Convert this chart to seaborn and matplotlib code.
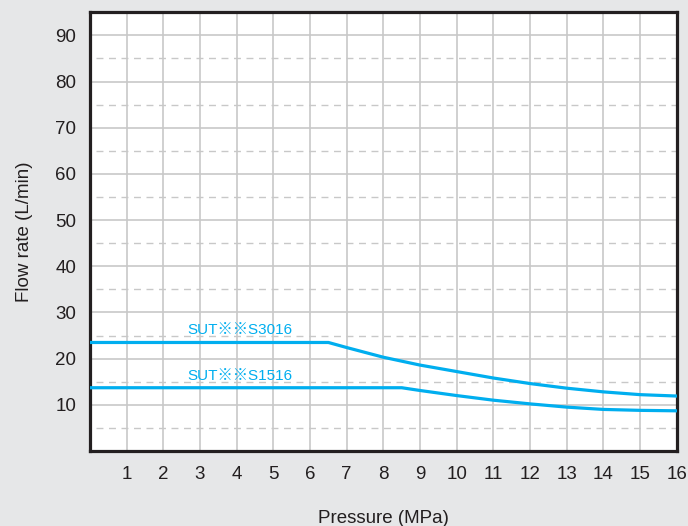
import pandas as pd
import matplotlib
matplotlib.use("Agg")
import matplotlib.pyplot as plt
import seaborn as sns

# values
pressure_s3016 = [0, 6.5, 7, 8, 9, 10, 11, 12, 13, 14, 15, 16]
flow_s3016 = [23.5, 23.5, 22.4, 20.3, 18.6, 17.2, 15.8, 14.6, 13.6, 12.8, 12.2, 11.9]
pressure_s1516 = [0, 8.5, 9, 10, 11, 12, 13, 14, 15, 16]
flow_s1516 = [13.7, 13.7, 13.1, 12.0, 11.0, 10.2, 9.5, 9.0, 8.8, 8.7]
model_names = ["SUT※※S3016", "SUT※※S1516"]
x_ticks = list(range(1, 17))
y_ticks = [10, 20, 30, 40, 50, 60, 70, 80, 90]
y_minor = [5, 15, 25, 35, 45, 55, 65, 75, 85]

df = pd.concat([
    pd.DataFrame({"Pressure": pressure_s3016, "Flow": flow_s3016, "Model": model_names[0]}),
    pd.DataFrame({"Pressure": pressure_s1516, "Flow": flow_s1516, "Model": model_names[1]}),
])

sns.set_style("white")
plt.rcParams["font.family"] = ["Liberation Sans", "Noto Sans CJK JP", "DejaVu Sans"]

bg = "#e6e7e8"
blue = "#00aeef"

fig = plt.figure(figsize=(6.88, 5.26), dpi=100, facecolor=bg)
ax = fig.add_axes([0.1308, 0.1426, 0.853, 0.834])
ax.set_facecolor("white")

# grid
for x in x_ticks[:-1]:
    ax.axvline(x, color="#c8c8c8", lw=1.2, zorder=1)
for y in y_ticks:
    ax.axhline(y, color="#c8c8c8", lw=1.2, zorder=1)
for y in y_minor:
    ax.axhline(y, xmin=0.01, color="#c8c8c8", lw=1.0, ls=(0, (5, 4)), zorder=1)

sns.lineplot(
    data=df,
    x="Pressure",
    y="Flow",
    hue="Model",
    palette=[blue, blue],
    linewidth=2.3,
    legend=False,
    sort=False,
    ax=ax,
    zorder=3
)

ax.text(4.1, 24.6, model_names[0], color=blue, fontsize=11, ha="center", va="bottom")
ax.text(4.1, 14.8, model_names[1], color=blue, fontsize=11, ha="center", va="bottom")

ax.set_xlim(0, 16)
ax.set_ylim(0, 95)
ax.set_xticks(x_ticks)
ax.set_yticks(y_ticks)
ax.tick_params(axis="both", length=0, labelsize=13.5, colors="#231f20")
ax.tick_params(axis="x", pad=11)
ax.tick_params(axis="y", pad=10)

ax.set_xlabel("Pressure (MPa)", fontsize=13.5, color="#231f20", labelpad=19)
ax.set_ylabel("Flow rate (L/min)", fontsize=13.5, color="#231f20", labelpad=16)

for spine in ax.spines.values():
    spine.set_visible(True)
    spine.set_color("#231f20")
    spine.set_linewidth(2.3)

fig.savefig("out.png", dpi=100, facecolor=bg)
